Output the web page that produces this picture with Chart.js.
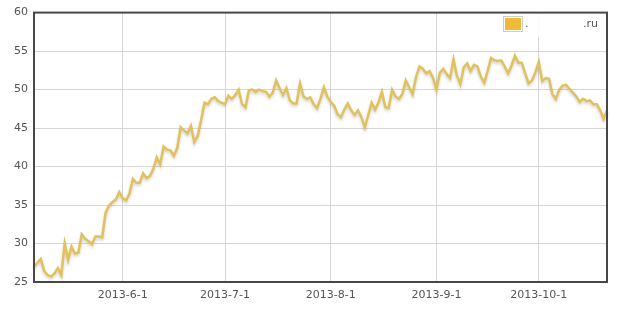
<!DOCTYPE html>
<html>
<head>
<meta charset="utf-8">
<script src="https://cdn.jsdelivr.net/npm/chart.js@4/dist/chart.umd.min.js"></script>
<style>
html,body{margin:0;padding:0;background:#fff;}
#wrap{width:639px;height:313px;}
</style>
</head>
<body>
<div id="wrap"><canvas id="c" width="639" height="313"></canvas></div>
<script>
// ---- data ----
const startDate = '2013-05-06';
const values = [
27.0,27.5,28.0,26.4,25.9,25.7,26.1,26.8,25.9,30.0,
27.9,29.6,28.7,28.8,31.2,30.6,30.3,29.9,30.9,30.9,
30.8,34.0,34.9,35.4,35.7,36.7,35.9,35.6,36.5,38.4,
37.9,37.9,39.1,38.5,38.8,39.7,41.2,40.3,42.6,42.2,
42.1,41.4,42.4,45.1,44.7,44.3,45.3,43.2,44.0,46.0,
48.3,48.1,48.8,49.0,48.5,48.3,48.1,49.2,48.8,49.3,
50.0,48.1,47.7,49.9,50.0,49.7,50.0,49.8,49.7,49.1,
49.6,51.2,50.2,49.3,50.2,48.6,48.2,48.2,50.8,49.1,
48.8,49.0,48.1,47.6,48.8,50.3,49.1,48.4,47.9,46.8,
46.4,47.4,48.2,47.3,46.7,47.3,46.4,45.1,46.7,48.3,
47.4,48.3,49.7,47.7,47.6,50.0,49.1,48.8,49.4,51.2,
50.3,49.4,51.6,53.0,52.7,52.1,52.4,51.5,50.0,52.2,
52.7,52.0,51.5,53.9,51.8,50.7,52.9,53.4,52.4,53.2,
53.0,51.7,50.9,52.4,54.1,53.8,53.7,53.8,53.0,52.1,
53.1,54.4,53.5,53.5,52.1,50.8,51.2,52.2,53.6,51.1,
51.5,51.4,49.4,48.8,50.0,50.5,50.6,50.1,49.6,49.1,
48.4,48.8,48.5,48.6,48.1,48.1,47.3,46.2,47.3
];
const tickLabels = ['2013-6-1','2013-7-1','2013-8-1','2013-9-1','2013-10-1'];
const tickDates = ['2013-06-01','2013-07-01','2013-08-01','2013-09-01','2013-10-01'];
const yTicks = [25,30,35,40,45,50,55,60];
const legendLeft = '.';
const legendRight = '.ru';

// ---- helpers ----
const dayMs = 86400000;
const t0 = Date.parse(startDate + 'T00:00:00Z');
const dayOf = s => Math.round((Date.parse(s + 'T00:00:00Z') - t0) / dayMs);
const tickDays = tickDates.map(dayOf);
const points = values.map((v, i) => ({x: i, y: v}));

const FONT = "'DejaVu Sans', Verdana, sans-serif";

const framePlugin = {
  id: 'frame',
  beforeDatasetsDraw(chart) {
    const ctx = chart.ctx;
    ctx.save();
  },
  afterDatasetsDraw(chart) {
    const {ctx, chartArea: a} = chart;
    ctx.restore();
    ctx.save();
    // legend
    const bx = 498, by = 13, bw = 106, bh = 24;
    ctx.fillStyle = 'rgba(255,255,255,0.9)';
    ctx.fillRect(bx, by, bw, bh);
    ctx.fillStyle = '#ffffff';
    ctx.fillRect(503.5, 16.5, 19, 15);
    ctx.strokeStyle = '#cccccc';
    ctx.lineWidth = 1;
    ctx.strokeRect(503.5, 16.5, 19, 15);
    ctx.fillStyle = '#efbb36';
    ctx.fillRect(505, 18, 16, 12);
    ctx.fillStyle = '#545454';
    ctx.font = '11px ' + FONT;
    ctx.textBaseline = 'middle';
    ctx.textAlign = 'left';
    ctx.fillText(legendLeft, 525, 24);
    ctx.textAlign = 'right';
    ctx.fillText(legendRight, 598, 24);
    // frame
    ctx.strokeStyle = '#474747';
    ctx.lineWidth = 2;
    ctx.strokeRect(a.left, a.top, a.right - a.left, a.bottom - a.top);
    ctx.restore();
  }
};

const shadowPlugin = {
  id: 'lineShadow',
  beforeDatasetDraw(chart) {
    const ctx = chart.ctx;
    ctx.save();
    ctx.shadowColor = 'rgba(0,0,0,0.18)';
    ctx.shadowBlur = 3;
    ctx.shadowOffsetX = 0;
    ctx.shadowOffsetY = 2;
  },
  afterDatasetDraw(chart) {
    chart.ctx.restore();
  }
};

new Chart(document.getElementById('c'), {
  type: 'line',
  data: {
    datasets: [{
      label: legendRight,
      data: points,
      borderColor: '#e1c15c',
      borderWidth: 2.5,
      pointRadius: 0,
      pointHoverRadius: 0,
      tension: 0,
      fill: false,
      clip: false
    }]
  },
  options: {
    responsive: false,
    animation: false,
    devicePixelRatio: 1,
    layout: {padding: {left: 0, right: 32, top: 9, bottom: 0}},
    plugins: {legend: {display: false}, tooltip: {enabled: false}},
    scales: {
      x: {
        type: 'linear',
        min: 0,
        max: values.length - 1,
        afterBuildTicks(scale) { scale.ticks = tickDays.map(v => ({value: v})); },
        afterFit(scale) { scale.height = 31; },
        border: {display: false},
        grid: {color: '#d6d6d6', lineWidth: 1, drawTicks: false},
        ticks: {
          autoSkip: false, maxRotation: 0, padding: 7,
          color: '#545454', font: {family: FONT, size: 11},
          callback(v) { const i = tickDays.indexOf(v); return i >= 0 ? tickLabels[i] : ''; }
        }
      },
      y: {
        min: yTicks[0],
        max: yTicks[yTicks.length - 1],
        afterBuildTicks(scale) { scale.ticks = yTicks.map(v => ({value: v})); },
        afterFit(scale) { scale.width = 34; },
        border: {display: false},
        grid: {color: '#d6d6d6', lineWidth: 1, drawTicks: false},
        ticks: {
          padding: 6, color: '#545454', font: {family: FONT, size: 11},
          callback(v) { return String(v); }
        }
      }
    }
  },
  plugins: [shadowPlugin, framePlugin]
});
</script>
</body>
</html>
